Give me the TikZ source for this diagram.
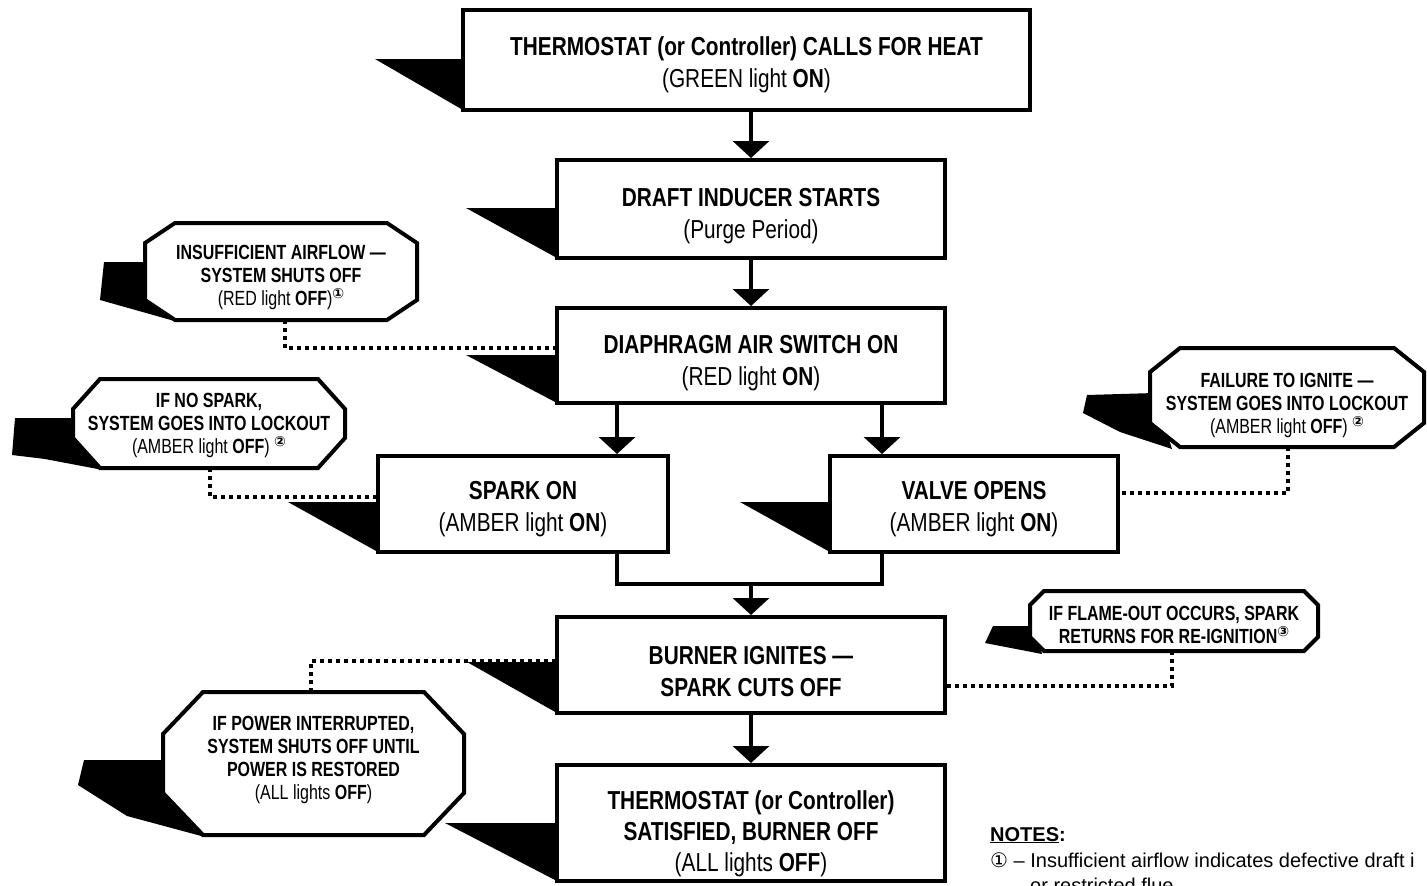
\documentclass[tikz,border=0pt]{standalone}
\usepackage{fontspec}
\setmainfont{Liberation Sans}
\newfontfamily\cond{Liberation Sans}[FakeStretch=0.8]
\newfontfamily\condc{Liberation Sans}[FakeStretch=0.78]
\newfontfamily\sym{DejaVu Sans}
\usetikzlibrary{arrows.meta,backgrounds}
\newcommand\circnum[1]{\raisebox{7pt}{\sym\bfseries\fontsize{14}{14}\selectfont #1}}
\newcommand\strutup[1]{\rule{0pt}{#1}}
\newcommand\strutdn[1]{\rule[-#1]{0pt}{0pt}}
\newcommand\octshape[3]{%
 \draw[octline] ([xshift=#2]#1.north west) -- ([xshift=-#2]#1.north east) -- ([yshift=-#3]#1.north east) -- ([yshift=#3]#1.south east) -- ([xshift=-#2]#1.south east) -- ([xshift=#2]#1.south west) -- ([yshift=#3]#1.south west) -- ([yshift=-#3]#1.north west) -- cycle;}
\begin{document}
\begin{tikzpicture}[x=1pt,y=-1pt,
 mainbox/.style={draw, line width=4pt, fill=white, rectangle, inner sep=0pt, align=center, font=\cond\fontsize{26}{32}\selectfont},
 callout/.style={inner sep=0pt, outer sep=0pt, align=center, font=\condc\fontsize{20.5}{23}\selectfont},
 shadow/.style={fill=black},
 conn/.style={line width=3.5pt, line join=miter},
 arr/.style={line width=3.5pt, -{Triangle[width=36pt,length=17pt]}},
 dots/.style={line width=4pt, dash pattern=on 4pt off 4pt},
 octline/.style={draw, line width=4pt, fill=white, line join=miter},
 notefont/.style={anchor=base west, inner sep=0pt, font=\fontsize{20}{24}\selectfont}]
\useasboundingbox (0,0) rectangle (1427,886);
\clip (0,0) rectangle (1427,886);

% main boxes
\node[mainbox, minimum width=567pt, minimum height=100pt] (top) at (746.5,60)
 {\strutup{28.6pt}\textbf{THERMOSTAT (or Controller) CALLS FOR HEAT}\\(GREEN light \textbf{ON})};
\node[mainbox, minimum width=388pt, minimum height=98pt] (draft) at (751,209)
 {\strutup{32.6pt}\textbf{DRAFT INDUCER STARTS}\\(Purge Period)};
\node[mainbox, minimum width=388pt, minimum height=95pt] (diaph) at (751,355.5)
 {\strutup{32.6pt}\textbf{DIAPHRAGM AIR SWITCH ON}\\(RED light \textbf{ON})};
\node[mainbox, minimum width=290pt, minimum height=96pt] (spark) at (523,504)
 {\strutup{28.6pt}\textbf{SPARK ON}\\(AMBER light \textbf{ON})};
\node[mainbox, minimum width=288pt, minimum height=96pt] (valve) at (974,504)
 {\strutup{28.6pt}\textbf{VALVE OPENS}\\(AMBER light \textbf{ON})};
\node[mainbox, minimum width=388pt, minimum height=96pt] (burner) at (751,665)
 {\strutup{30.6pt}\textbf{BURNER IGNITES —}\\\textbf{SPARK CUTS OFF}};
\node[mainbox, minimum width=388pt, minimum height=116pt, font=\cond\fontsize{26}{31}\selectfont] (sat) at (751,823)
 {\strutup{40.6pt}\textbf{THERMOSTAT (or Controller)}\\\textbf{SATISFIED, BURNER OFF}\\(ALL lights \textbf{OFF})};

% callouts
\node[callout, minimum width=272pt, minimum height=97pt] (cA) at (281,271.5)
 {\strutup{26.7pt}\textbf{INSUFFICIENT AIRFLOW —}\\\textbf{SYSTEM SHUTS OFF}\\(RED light \textbf{OFF})\circnum{①}};
\node[callout, minimum width=272pt, minimum height=89pt, text depth=0pt] (cB) at (209,423.5)
 {\textbf{IF NO SPARK,}\\\textbf{SYSTEM GOES INTO LOCKOUT}\\(AMBER light \textbf{OFF}) \circnum{②}};
\node[callout, minimum width=274pt, minimum height=99pt] (cC) at (1287,397.5)
 {\strutup{30.7pt}\textbf{FAILURE TO IGNITE —}\\\textbf{SYSTEM GOES INTO LOCKOUT}\\(AMBER light \textbf{OFF}) \circnum{②}};
\node[callout, minimum width=288pt, minimum height=60pt] (cD) at (1174,621)
 {\strutup{21.7pt}\textbf{IF FLAME-OUT OCCURS, SPARK}\\\textbf{RETURNS FOR RE-IGNITION}\circnum{③}};
\node[callout, minimum width=301pt, minimum height=143pt] (cE) at (313.5,763.5)
 {\textbf{IF POWER INTERRUPTED,}\\\textbf{SYSTEM SHUTS OFF UNTIL}\\\textbf{POWER IS RESTORED}\\(ALL lights \textbf{OFF})\strutdn{12.3pt}};

\begin{scope}[on background layer]
 % shadows of main boxes
 \fill[shadow] (463,59) -- (375,59) -- (463,110) -- cycle;
 \fill[shadow] (557,208) -- (466,208) -- (557,258) -- cycle;
 \fill[shadow] (557,355) -- (466,355) -- (557,403) -- cycle;
 \fill[shadow] (378,502) -- (288,502) -- (378,552) -- cycle;
 \fill[shadow] (830,502) -- (740,502) -- (830,552) -- cycle;
 \fill[shadow] (557,662) -- (467,662) -- (557,713) -- cycle;
 \fill[shadow] (557,823) -- (445,823) -- (557,881) -- cycle;
 % shadows of callouts
 \fill[shadow] (150,262) -- (104,262) -- (100,300) -- (178,322) -- cycle;
 \fill[shadow] (78,418) -- (15,418) -- (12,455) -- (45,459) -- (103,470) -- cycle;
 \fill[shadow] (1155,393) -- (1087,395) -- (1083,413) -- (1120,432) -- (1172,449) -- cycle;
 \fill[shadow] (1035,626) -- (993,626) -- (985,643) -- (1042,654) -- cycle;
 \fill[shadow] (168,760) -- (84,760) -- (78,785) -- (127,816) -- (205,837) -- cycle;
 % callout outlines
 \octshape{cA}{30pt}{20pt}
 \octshape{cB}{27pt}{30pt}
 \octshape{cC}{30pt}{24pt}
 \octshape{cD}{14pt}{14pt}
 \octshape{cE}{40pt}{42pt}
\end{scope}

% flow arrows
\draw[arr] (draft.north |- top.south) -- (draft.north);
\draw[arr] (diaph.north |- draft.south) -- (diaph.north);
\draw[arr] ([xshift=94pt]spark.north |- diaph.south) -- ([xshift=94pt]spark.north);
\draw[arr] ([xshift=-92pt]valve.north |- diaph.south) -- ([xshift=-92pt]valve.north);
\draw[conn] ([xshift=94pt]spark.south) -- ++(0,30) coordinate (jl) -| ([xshift=-92pt]valve.south);
\coordinate (join) at (burner.north |- jl);
\draw[arr] (join) -- (burner.north);
\draw[arr] (sat.north |- burner.south) -- (sat.north);

% dotted links
\draw[dots] ([xshift=4pt]cA.south) |- ([yshift=7.5pt]diaph.west);
\draw[dots] ([xshift=1pt]cB.south) |- ([yshift=7pt]spark.west);
\draw[dots] ([xshift=1pt]cC.south) |- ([yshift=11pt]valve.east);
\draw[dots] ([xshift=-2pt]cD.south) |- ([yshift=-21pt]burner.east);
\draw[dots] ([xshift=-3pt]cE.north) |- ([yshift=4pt]burner.west);

% notes
\node[notefont, font=\fontsize{20}{24}\selectfont\bfseries] (notes) at (990,841) {\underline{NOTES}:};
\node[notefont] (n1) at (990,867) {{\sym ①} – Insufficient airflow indicates defective draft i};
\node[notefont] (n2) at (1030,892) {or restricted flue};
\end{tikzpicture}
\end{document}
